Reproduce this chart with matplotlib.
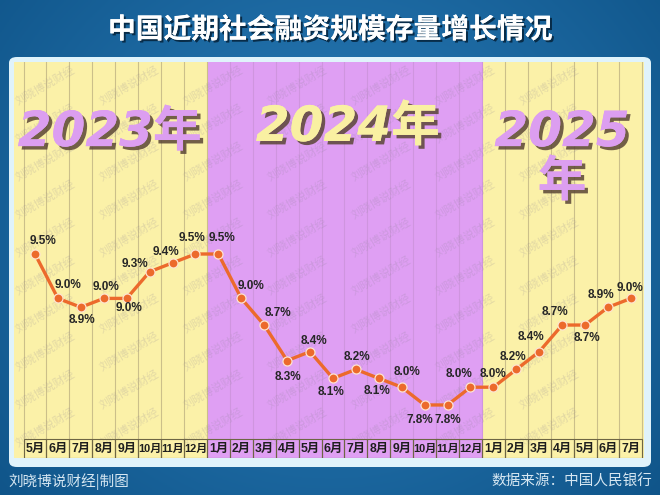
import numpy as np
import matplotlib
matplotlib.use("Agg")
import matplotlib.pyplot as plt
from matplotlib.patches import FancyBboxPatch, Rectangle
from matplotlib import patheffects as pe
from matplotlib.transforms import blended_transform_factory

plt.rcParams['font.family'] = ['Noto Sans CJK SC', 'DejaVu Sans']

# 数据：2023年5月 - 2025年7月 社融存量同比增速(%)
months = ['5月', '6月', '7月', '8月', '9月', '10月', '11月', '12月',
          '1月', '2月', '3月', '4月', '5月', '6月', '7月', '8月', '9月', '10月', '11月', '12月',
          '1月', '2月', '3月', '4月', '5月', '6月', '7月']
growth = [9.5, 9.0, 8.9, 9.0, 9.0, 9.3, 9.4, 9.5,
          9.5, 9.0, 8.7, 8.3, 8.4, 8.1, 8.2, 8.1, 8.0, 7.8, 7.8, 8.0,
          8.0, 8.2, 8.4, 8.7, 8.7, 8.9, 9.0]
year_names = ['2023年', '2024年', '2025\n年']
year_counts = [8, 12, 7]

# 标签偏移(像素)
label_off = [(8, 13), (10, 13), (1, -13), (2, 11), (2, -10), (-15, 8), (-7, 11), (-3, 16),
             (4, 16), (10, 12), (14, 12), (1, -16), (4, 11), (-2, -14), (1, 12), (-2, -13),
             (5, 15), (-5, -15), (0, -15), (-11, 13), (0, 13), (-3, 12), (-8, 15), (-7, 13),
             (2, -13), (-7, 12), (-1, 10)]

W, H = 660, 495
fig = plt.figure(figsize=(6.6, 4.95), dpi=100)

# 背景渐变
bg = fig.add_axes([0, 0, 1, 1], zorder=-5)
bg.set_axis_off()
yy, xx = np.mgrid[0:1:200j, 0:1:300j]
r = np.sqrt(((xx - 0.5) / 0.8) ** 2 + ((yy - 0.45) / 1.0) ** 2)
c1 = np.array([0.17, 0.50, 0.74])
c2 = np.array([0.04, 0.30, 0.50])
t = np.clip(r, 0, 1)[..., None]
bg.imshow(c1 * (1 - t) + c2 * t, extent=[0, 1, 0, 1], aspect='auto')
bg.set_xlim(0, 1)
bg.set_ylim(0, 1)

# 浅色面板
bg.add_patch(FancyBboxPatch((9 / W, 1 - 467 / H), 642 / W, 410 / H,
                            boxstyle="round,pad=0,rounding_size=0.012",
                            transform=bg.transAxes, facecolor='#e0f3fb', edgecolor='none'))

# 标题
fig.text(0.5, 1 - 30 / H, '中国近期社会融资规模存量增长情况', ha='center', va='center',
         fontsize=20, fontweight='bold', color='white',
         path_effects=[pe.withSimplePatchShadow(offset=(1.5, -1.5), shadow_rgbFace='#06263f', alpha=0.9),
                       pe.Normal()])

# 主图
ax = fig.add_axes([14 / W, 1 - 458 / H, 630 / W, 396 / H])
x = np.arange(len(months))
x0 = (14 - 35) / 22.92
x1 = (644 - 35) / 22.92
ax.set_xlim(x0, x1)
ax.set_ylim(9.5 - 204 / 88.8, 9.5 + 192 / 88.8)
ax.set_axis_off()

colors = ['#fbf1a8', '#df9ff3', '#fbf1a8']
line_cols = ['#cbbf8a', '#cf95df', '#cbbf8a']
start = 0
for k, n in enumerate(year_counts):
    lo = x0 if k == 0 else start - 0.5
    hi = x1 if k == len(year_counts) - 1 else start + n - 0.5
    ax.axvspan(lo, hi, color=colors[k], zorder=0, lw=0)
    for i in range(start, start + n):
        ax.axvline(i + 0.5, color=line_cols[k], lw=0.8, zorder=1)
    start += n
ax.axvline(-0.5, color=line_cols[0], lw=0.8, zorder=1)

# 水印
for px in range(45, 620, 84):
    for py in range(85, 440, 38):
        xa = (px - 14) / 630
        ya = (458 - py) / 396
        ax.text(xa, ya, '刘晓博说财经', transform=ax.transAxes, fontsize=8,
                rotation=30, color='#8c8296', alpha=0.22, ha='center', va='center',
                zorder=2)

# 年份大字
year_pos = [(0.152, 0.823), (0.530, 0.836), (0.870, 0.76)]
year_col = ['#dc9ef0', '#f9f0a2', '#dc9ef0']
for name, (xa, ya), col in zip(year_names, year_pos, year_col):
    ax.text(xa, ya, name, transform=ax.transAxes, ha='center', va='center',
            fontsize=35, fontweight='bold', style='italic', color=col,
            family=['DejaVu Sans', 'Noto Sans CJK SC'], linespacing=1.05, zorder=3,
            path_effects=[pe.withSimplePatchShadow(offset=(2.5, -2.5), shadow_rgbFace='#5a4636', alpha=0.85),
                          pe.Normal()])

# 折线
ax.plot(x, growth, color='#ec6a2c', lw=2.4, zorder=5, solid_capstyle='round')
ax.plot(x, growth, 'o', color='#ec6a2c', ms=6.5, mec='#fde3d0', mew=0.9, zorder=6)
for i, v in enumerate(growth):
    dx, dy = label_off[i]
    ax.annotate(f'{v:.1f}%', (i, v), xytext=(dx * 0.72, dy * 0.72), textcoords='offset points',
                ha='center', va='center', fontsize=8.5, fontweight='bold', color='#262626',
                family=['Liberation Sans', 'DejaVu Sans'], zorder=7)

# 月份行
tr = blended_transform_factory(ax.transData, ax.transAxes)
row_h = 19 / 396
for i, m in enumerate(months):
    ax.add_patch(Rectangle((i - 0.5, 0), 1, row_h, transform=tr, facecolor='none',
                           edgecolor='#6e6644', lw=0.8, zorder=4))
    ax.text(i, row_h / 2, m, transform=tr, ha='center', va='center',
            fontsize=8.8 if len(m) == 2 else 7.9,
            fontweight='bold', color='#1e1e1e', family=['Liberation Sans', 'Noto Sans CJK SC'],
            zorder=5)

# 底部说明
fig.text(8 / W, 1 - 482 / H, '刘晓博说财经|制图', ha='left', va='center', fontsize=10.5,
         color='#d6e7f2')
fig.text(652 / W, 1 - 482 / H, '数据来源：中国人民银行', ha='right', va='center', fontsize=10.5,
         color='#d6e7f2')

fig.savefig('out.png', dpi=100)
